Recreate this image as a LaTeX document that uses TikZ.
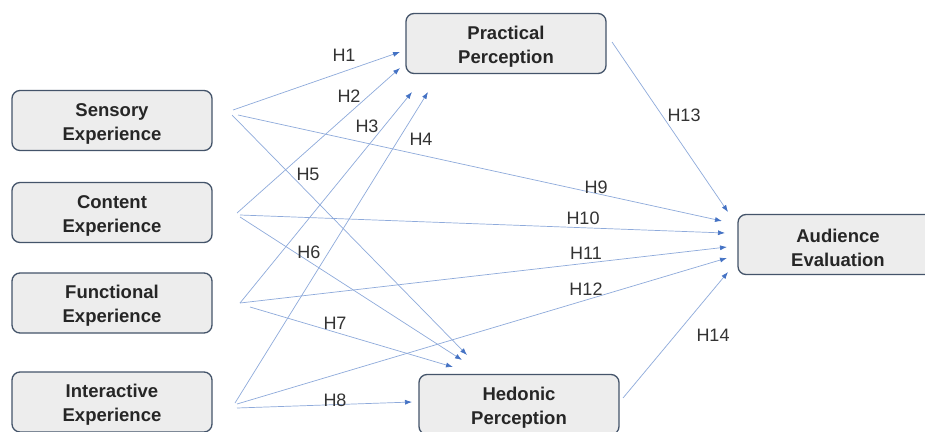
\documentclass[tikz,border=0pt]{standalone}
\usepackage{fontspec}
\setmainfont{Liberation Sans}
\usetikzlibrary{arrows.meta}
\definecolor{boxfill}{HTML}{EDEDED}
\definecolor{boxline}{HTML}{44546A}
\definecolor{linecol}{HTML}{8EAADB}
\definecolor{tipcol}{HTML}{4472C4}
\definecolor{labcol}{HTML}{333333}
\begin{document}
\begin{tikzpicture}[x=1pt,y=-1pt,
  box/.style={draw=boxline,line width=1.3pt,fill=boxfill,rounded corners=8pt,
    minimum width=200pt,minimum height=60pt,inner sep=0pt},
  boxtext/.style={align=center,inner sep=0pt,yshift=-3pt,
    font=\fontsize{18.5}{24}\selectfont\bfseries,text=black!85},
  hyp/.style={draw=linecol,line width=0.7pt,-{Latex[length=7pt,width=5pt,color=tipcol]}},
  lab/.style={font=\fontsize{18}{20}\selectfont,text=labcol,inner sep=0pt}]
\clip (0,0) rectangle (925,431);
\fill[white] (0,0) rectangle (925,431);
% boxes
\node[box] (sens) at (112,120.5) {};
\node[box] (cont) at (112,212.5) {};
\node[box] (func) at (112,303) {};
\node[box] (inter) at (112,402) {};
\node[box] (prac) at (506,43.5) {};
\node[box] (hed) at (519,404.5) {};
\node[box] (aud) at (838,244.5) {};
\node[boxtext] (sens-t) at (sens.center) {Sensory\\Experience};
\node[boxtext] (cont-t) at (cont.center) {Content\\Experience};
\node[boxtext] (func-t) at (func.center) {Functional\\Experience};
\node[boxtext] (inter-t) at (inter.center) {Interactive\\Experience};
\node[boxtext] (prac-t) at (prac.center) {Practical\\Perception};
\node[boxtext] (hed-t) at (hed.center) {Hedonic\\Perception};
\node[boxtext] (aud-t) at (aud.center) {Audience\\Evaluation};
% connector end points
\coordinate (s1) at (233,110);
\coordinate (s2) at (232,115);
\coordinate (s3) at (238,115);
\coordinate (c1) at (237,213);
\coordinate (c2) at (240,215);
\coordinate (c3) at (240,217);
\coordinate (f1) at (240,303);
\coordinate (f2) at (250,307);
\coordinate (i1) at (235,403);
\coordinate (i2) at (237,404);
\coordinate (i3) at (237,408);
\coordinate (p0) at (612,42);
\coordinate (h0) at (623,398);
\coordinate (pa) at (400,52);
\coordinate (pb) at (400,68);
\coordinate (pc) at (412,92);
\coordinate (pd) at (428,92);
\coordinate (ha) at (467,355);
\coordinate (hb) at (462,360);
\coordinate (hc) at (453,367);
\coordinate (hd) at (412,402);
\coordinate (a9) at (722,221);
\coordinate (a10) at (725,233);
\coordinate (a11) at (727,247);
\coordinate (a12) at (727,258);
\coordinate (a13) at (728,212);
\coordinate (a14) at (728,272);
% connectors
\draw[hyp] (s1) -- (pa);
\draw[hyp] (c1) -- (pb);
\draw[hyp] (f1) -- (pc);
\draw[hyp] (i1) -- (pd);
\draw[hyp] (s2) -- (ha);
\draw[hyp] (c3) -- (hb);
\draw[hyp] (f2) -- (hc);
\draw[hyp] (i3) -- (hd);
\draw[hyp] (s3) -- (a9);
\draw[hyp] (c2) -- (a10);
\draw[hyp] (f1) -- (a11);
\draw[hyp] (i2) -- (a12);
\draw[hyp] (p0) -- (a13);
\draw[hyp] (h0) -- (a14);
% labels
\node[lab] (l1) at (344,55) {H1};
\node[lab] (l2) at (349,96) {H2};
\node[lab] (l3) at (367,126) {H3};
\node[lab] (l4) at (421,139) {H4};
\node[lab] (l5) at (308,174) {H5};
\node[lab] (l6) at (309,252) {H6};
\node[lab] (l7) at (335,323) {H7};
\node[lab] (l8) at (335,400) {H8};
\node[lab] (l9) at (596,187) {H9};
\node[lab] (l10) at (583,218) {H10};
\node[lab] (l11) at (586,253) {H11};
\node[lab] (l12) at (586,289) {H12};
\node[lab] (l13) at (684,115) {H13};
\node[lab] (l14) at (713,335) {H14};
\end{tikzpicture}
\end{document}
